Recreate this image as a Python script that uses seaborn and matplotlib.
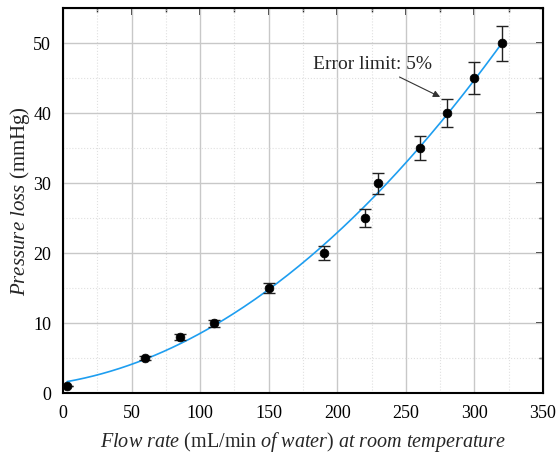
import numpy as np
import matplotlib
matplotlib.use('Agg')
import matplotlib.pyplot as plt
import seaborn as sns
from matplotlib.ticker import MultipleLocator

flow_rate = [3, 60, 85, 110, 150, 190, 220, 230, 260, 280, 300, 320]
pressure_loss = [1, 5, 8, 10, 15, 20, 25, 30, 35, 40, 45, 50]
error_frac = 0.05

sns.set_style('white')
plt.rcParams['font.family'] = ['Liberation Serif', 'DejaVu Serif']
plt.rcParams['mathtext.fontset'] = 'custom'
plt.rcParams['mathtext.rm'] = 'Liberation Serif'
plt.rcParams['mathtext.it'] = 'Liberation Serif:italic'

fig = plt.figure(figsize=(5.59, 4.58), dpi=100)
ax = fig.add_axes([0.1127, 0.1419, 0.8587, 0.8406])

x = np.array(flow_rate, dtype=float)
y = np.array(pressure_loss, dtype=float)

# quadratic fit
coef = np.polyfit(x, y, 2)
xf = np.linspace(x.min(), x.max(), 200)
sns.lineplot(x=xf, y=np.polyval(coef, xf), color='#1E9EF0', lw=1.2, ax=ax, zorder=3)

ax.errorbar(x, y, yerr=y * error_frac, fmt='none', ecolor='#222222',
            elinewidth=1.0, capsize=4, capthick=1.0, zorder=4)
sns.scatterplot(x=x, y=y, color='black', s=40, edgecolor='black', ax=ax, zorder=5)

ax.set_xlim(0, 350)
ax.set_ylim(0, 55)
ax.xaxis.set_major_locator(MultipleLocator(50))
ax.xaxis.set_minor_locator(MultipleLocator(25))
ax.yaxis.set_major_locator(MultipleLocator(10))
ax.yaxis.set_minor_locator(MultipleLocator(5))

ax.grid(which='major', color='#c8c8c8', lw=1.0, ls='-')
ax.grid(which='minor', color='#e0e0e0', lw=0.8, ls=':')
ax.set_axisbelow(True)

for s in ax.spines.values():
    s.set_color('black')
    s.set_linewidth(1.5)

ax.tick_params(which='major', direction='out', length=5, width=1.3, labelsize=13, colors='black')
ax.tick_params(which='minor', direction='out', length=3, width=1.0)

top = ax.secondary_xaxis('top')
top.xaxis.set_major_locator(MultipleLocator(50))
top.xaxis.set_minor_locator(MultipleLocator(25))
top.tick_params(which='major', direction='in', length=5, width=1.3, labeltop=False)
top.tick_params(which='minor', direction='in', length=3, width=1.0)
right = ax.secondary_yaxis('right')
right.yaxis.set_major_locator(MultipleLocator(10))
right.yaxis.set_minor_locator(MultipleLocator(5))
right.tick_params(which='major', direction='in', length=5, width=1.3, labelright=False)
right.tick_params(which='minor', direction='in', length=3, width=1.0)

ax.set_xlabel(r'$\mathit{Flow\ rate}$ (mL/min $\mathit{of\ water}$) $\mathit{at\ room\ temperature}$',
              fontsize=14.5, labelpad=6)
ax.set_ylabel(r'$\mathit{Pressure\ loss}$ (mmHg)', fontsize=15, labelpad=1)

ax.annotate('Error limit: 5%', xy=(275, 42.3), xytext=(226, 47),
            fontsize=14, ha='center', va='center',
            arrowprops=dict(arrowstyle='-|>', color='#333333', lw=0.8,
                            shrinkA=2, shrinkB=0, mutation_scale=10))

fig.savefig('out.png', dpi=100)
